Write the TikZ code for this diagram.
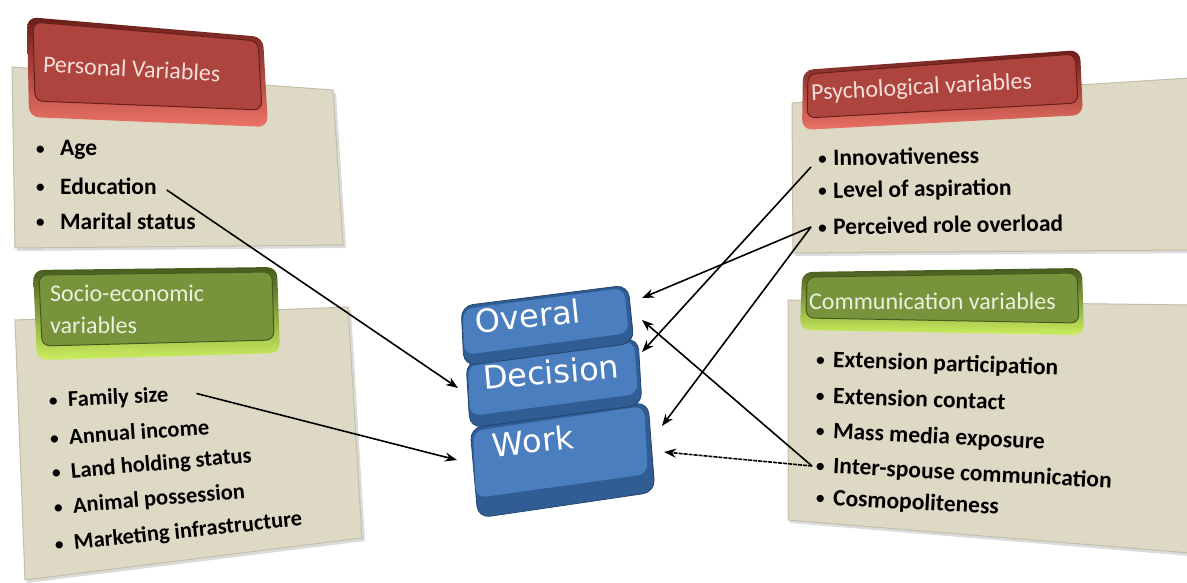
\documentclass[tikz,border=0pt]{standalone}
\usepackage{fontspec}
\setmainfont{Carlito}
\newfontfamily\keyfont{DejaVu Sans}
\usetikzlibrary{arrows.meta}
\definecolor{panel}{HTML}{DDD9C4}
\definecolor{panelEdge}{HTML}{C2BEAA}
\definecolor{panelShadow}{HTML}{B8B8B8}
\definecolor{redMain}{HTML}{AD443E}
\definecolor{redLight}{HTML}{EC7266}
\definecolor{redDark}{HTML}{6A1E1A}
\definecolor{redText}{HTML}{F3DED9}
\definecolor{greenMain}{HTML}{77933C}
\definecolor{greenLight}{HTML}{CBEE5E}
\definecolor{greenDark}{HTML}{465A1E}
\definecolor{greenText}{HTML}{EAF1DC}
\definecolor{keyFace}{HTML}{4A7EBF}
\definecolor{keySide}{HTML}{2F5D94}
\definecolor{keyEdge}{HTML}{22456E}
\tikzset{
  item/.style={font=\bfseries\fontsize{23.5}{26}\selectfont, anchor=west, inner sep=2pt, text=black},
  itemsm/.style={item, font=\bfseries\fontsize{22.5}{25}\selectfont},
  headtext/.style={font=\fontsize{24}{32}\selectfont, anchor=west, inner sep=0pt},
  keytext/.style={font=\keyfont\fontsize{32}{36}\selectfont, text=white, inner sep=0pt},
  conn/.style={line width=1.6pt, -{Stealth[length=12pt,width=9pt]}},
  panelbox/.style={fill=panel, draw=panelEdge, line width=1pt},
  panelshadow/.style={fill=panelShadow, opacity=0.5},
  redouter/.style={rounded corners=10pt, top color=redDark, bottom color=redLight},
  redinner/.style={rounded corners=8pt, fill=redMain, draw=redDark, line width=1pt},
  greenouter/.style={rounded corners=10pt, top color=greenDark, bottom color=greenLight},
  greeninner/.style={rounded corners=8pt, fill=greenMain, draw=greenDark, line width=1pt},
  keyouter/.style={rounded corners=12pt, fill=keySide, draw=keyEdge, line width=0.8pt},
  keyinner/.style={rounded corners=10pt, fill=keyFace},
}
\newcommand{\bul}[1]{\makebox[#1][l]{\hspace{1pt}\raisebox{1.5pt}{\fontsize{17}{17}\selectfont\textbullet}}}
\begin{document}
\begin{tikzpicture}[x=1pt,y=-1pt]
\useasboundingbox (0,0) rectangle (1187,583);
\fill[white] (0,0) rectangle (1187,583);

% ---------- Personal variables panel ----------
\path[panelshadow] (14,70) -- (336,93) -- (346,248) -- (17,251) -- cycle;
\path[panelbox] (12,67) -- (333,90) -- (343,245) -- (15,248) -- cycle;
\path[redouter] (27,17) -- (263,37) -- (268,127) -- (29,117) -- cycle;
\path[redinner] (33,22) -- (258,41) -- (262,110) -- (35,101) -- cycle;
\node[headtext, text=redText, rotate=-3] (pvh) at (43,64) {Personal Variables};
\node[item] (age) at (33,150) {\bul{25pt}Age};
\node[item] (edu) at (33,186) {\bul{25pt}Education};
\node[item] (mar) at (33,221) {\bul{25pt}Marital status};

% ---------- Socio-economic panel ----------
\path[panelshadow] (17,323) -- (351,310) -- (365,541) -- (27,583) -- cycle;
\path[panelbox] (15,320) -- (348,307) -- (362,538) -- (25,580) -- cycle;
\path[greenouter] (33,270) -- (277,267) -- (280,353) -- (37,360) -- cycle;
\path[greeninner] (39,275) -- (272,272) -- (274,340) -- (42,346) -- cycle;
\node[headtext, text=greenText, align=left, anchor=north west] (seh) at (50,285) {Socio-economic\\variables};
\node[itemsm, rotate=3] (fam) at (46,402) {\bul{20pt}Family size};
\node[itemsm, rotate=4] (inc) at (47,438) {\bul{20pt}Annual income};
\node[itemsm, rotate=5] (land) at (49,474) {\bul{20pt}Land holding status};
\node[itemsm, rotate=5] (anim) at (51,509) {\bul{20pt}Animal possession};
\node[itemsm, rotate=6] (mkt) at (52,546) {\bul{20pt}Marketing infrastructure};

% ---------- Psychological panel ----------
\path[panelshadow] (794,106) -- (1190,81) -- (1190,253) -- (795,256) -- cycle;
\path[panelbox] (792,103) -- (1190,78) -- (1190,250) -- (793,253) -- cycle;
\path[redouter] (803,70) -- (1080,50) -- (1083,115) -- (802,130) -- cycle;
\path[redinner] (808,74) -- (1075,54) -- (1078,103) -- (807,118) -- cycle;
\node[headtext, text=redText, rotate=3] (psh) at (811,94) {Psychological variables};
\node[item, rotate=1] (inn) at (815,158) {\bul{16pt}Innovativeness};
\node[item, rotate=1] (asp) at (815,192) {\bul{16pt}Level of aspiration};
\node[item, rotate=1] (perc) at (815,227) {\bul{16pt}Perceived role overload};

% ---------- Communication panel ----------
\path[panelshadow] (790,303) -- (1190,308) -- (1190,556) -- (790,523) -- cycle;
\path[panelbox] (788,300) -- (1190,305) -- (1190,553) -- (788,520) -- cycle;
\path[greenouter] (802,272) -- (1082,268) -- (1084,335) -- (800,330) -- cycle;
\path[greeninner] (807,277) -- (1077,273) -- (1079,323) -- (806,318) -- cycle;
\node[headtext, text=greenText] (cmh) at (809,301) {Communication variables};
\node[item, rotate=-2] (ep) at (813,360) {\bul{18pt}Extension participation};
\node[item, rotate=-2] (ec) at (813,395) {\bul{18pt}Extension contact};
\node[item, rotate=-3] (mm) at (813,431) {\bul{18pt}Mass media exposure};
\node[item, rotate=-3] (isc) at (813,466) {\bul{18pt}Inter-spouse communication};
\node[item, rotate=-3] (cos) at (813,498) {\bul{18pt}Cosmopoliteness};

% ---------- Keys ----------
\path[keyouter] (470,428) -- (648,402) -- (655,492) -- (478,518) -- cycle;
\path[keyinner] (473,431) -- (644,406) -- (648,474) -- (476,498) -- cycle;
\path[keyouter] (466,362) -- (638,338) -- (642,405) -- (470,428) -- cycle;
\path[keyinner] (468,365) -- (634,341) -- (638,394) -- (470,416) -- cycle;
\path[keyouter] (461,306) -- (628,285) -- (634,343) -- (464,366) -- cycle;
\path[keyinner] (463,309) -- (624,288) -- (629,333) -- (464,355) -- cycle;
\node[keytext, rotate=6] (ov) at (528,316) {Overal};
\node[keytext, rotate=5] (de) at (551,372) {Decision};
\node[keytext, rotate=6] (wo) at (533,441) {Work};

% arrow end points on the keys
\coordinate (dL) at (458,388);
\coordinate (wL) at (457,460);
\coordinate (oR1) at (642,298);
\coordinate (oR2) at (642,320);
\coordinate (dR) at (642,352);
\coordinate (wR1) at (662,426);
\coordinate (wR2) at (664,452);

% ---------- Connectors ----------
\draw[conn] ([xshift=8pt,yshift=-4pt]edu.east) -- (dL);
\draw[conn] ([xshift=26pt,yshift=2pt]fam.east) -- (wL);
\draw[conn] ([shift={(-4pt,-9pt)}]inn.west) -- (dR);
\draw[conn] ([xshift=-4pt]perc.west) -- (oR1);
\draw[conn] ([xshift=-4pt]perc.west) -- (wR1);
\draw[conn] ([xshift=-1pt]isc.west) -- (oR2);
\draw[conn, dash pattern=on 4pt off 1pt] ([xshift=-1pt]isc.west) -- (wR2);
\end{tikzpicture}
\end{document}
